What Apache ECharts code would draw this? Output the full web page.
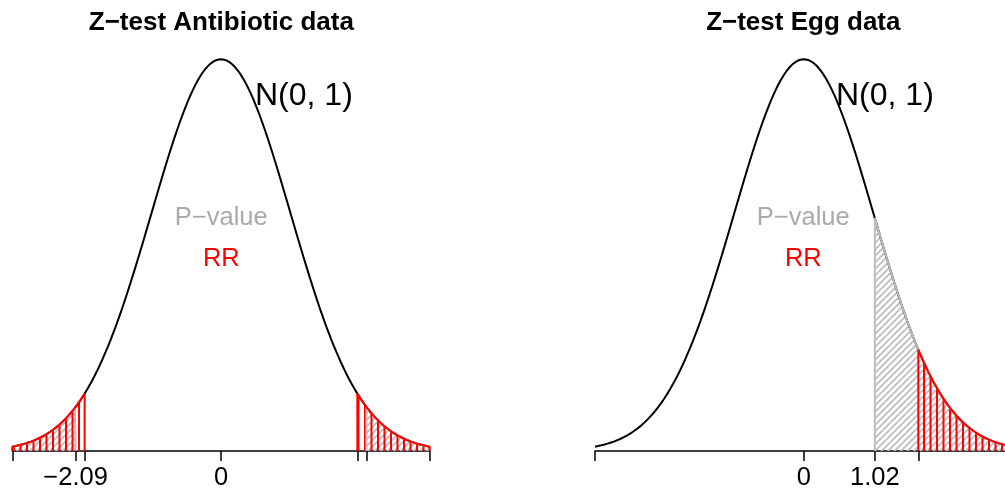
<!DOCTYPE html>
<html>
<head>
<meta charset="utf-8">
<script src="https://cdn.jsdelivr.net/npm/echarts@6/dist/echarts.min.js"></script>
<style>
  body { margin: 0; background: #fff; }
  #main { width: 1005px; height: 491px; }
</style>
</head>
<body>
<div id="main"></div>
<script>
// standard normal, drawn from -3 to 3
const mu = 0
const sigma = 1
const xRange = [-3, 3]
const step = 0.01
// right panel is cut by the window edge
const eggShownMax = 2.89

// antibiotic data: two sided test
const antiZ = -2.09
const antiCrit = [-1.96, 1.96]
const antiTicks = [-3, -2.09, -1.96, 0, 1.96, 2.09, 3]
const antiLabels = [-2.09, 0]

// egg data: one sided test
const eggZ = 1.02
const eggCrit = 1.645
const eggTicks = [-3, 0, 1.02, 1.645]
const eggLabels = [0, 1.02]

const titles = ['Z\u2212test Antibiotic data', 'Z\u2212test Egg data']

function dnorm(x) {
  const z = (x - mu) / sigma
  return Math.exp(-z * z / 2) / (sigma * Math.sqrt(2 * Math.PI))
}

function curve(a, b) {
  const pts = []
  for (let x = a; x < b; x += step) pts.push([x, dnorm(x)])
  pts.push([b, dnorm(b)])
  return pts
}

function region(a, b) {
  return [[a, 0]].concat(curve(a, b), [[b, 0]])
}

function hatch(color, kind) {
  const s = 13
  const c = document.createElement('canvas')
  c.width = s
  c.height = s
  const ctx = c.getContext('2d')
  ctx.strokeStyle = color
  ctx.lineWidth = kind === 'v' ? 2 : 1.7
  ctx.beginPath()
  if (kind === 'v') {
    ctx.moveTo(1, 0); ctx.lineTo(1, s)
    ctx.moveTo(7.5, 0); ctx.lineTo(7.5, s)
  } else {
    for (let k = -1; k <= 5; k++) {
      const d = k * 6.5
      ctx.moveTo(d + 2, -2); ctx.lineTo(d - s - 2, s + 2)
    }
  }
  ctx.stroke()
  return { image: c, repeat: 'repeat' }
}

const greyFill = hatch('#bdbdbd', 'd')
const redFill = hatch('#ff0000', 'v')

function curveSeries(i) {
  return {
    type: 'line', xAxisIndex: i, yAxisIndex: i,
    data: curve(xRange[0], xRange[1]),
    showSymbol: false, silent: true,
    lineStyle: { color: '#000', width: 2 }
  }
}

function areaSeries(i, a, b, color, fill) {
  return {
    type: 'line', xAxisIndex: i, yAxisIndex: i,
    data: region(a, b),
    showSymbol: false, silent: true,
    lineStyle: { color: color, width: 2 },
    areaStyle: { color: fill, opacity: 1 }
  }
}

function fmt(v) {
  if (v === 0) return '0'
  return (v < 0 ? '\u2212' : '') + Math.abs(v).toFixed(2)
}

function xAxis(i, max, ticks, labels) {
  return {
    type: 'value', gridIndex: i, min: xRange[0], max: max,
    splitLine: { show: false },
    axisLine: { show: true, onZero: false, lineStyle: { color: '#000', width: 1.5 } },
    axisTick: { show: true, customValues: ticks, length: 10, lineStyle: { color: '#000', width: 1.5 } },
    axisLabel: {
      show: true, customValues: labels, formatter: fmt, margin: 14,
      color: '#000', fontSize: 25.5, fontFamily: 'Liberation Sans'
    }
  }
}

function yAxis(i) {
  return { type: 'value', gridIndex: i, min: 0, max: 0.4, show: false }
}

function label(x, y, text, size, color, bold, align) {
  return {
    type: 'text', x: x, y: y, silent: true,
    style: {
      text: text, fill: color,
      font: (bold ? 'bold ' : '') + size + 'px "Liberation Sans"',
      align: align || 'center', verticalAlign: 'middle',
      textAlign: align || 'center', textVerticalAlign: 'middle'
    }
  }
}

const centers = [221.3, 803.3]

var myChart = echarts.init(document.getElementById('main'))
var option = {
  animation: false,
  grid: [
    { left: 12.3, top: 58.2, width: 417.4, height: 393.8 },
    { left: 595, top: 58.2, right: 0, height: 393.8 }
  ],
  xAxis: [xAxis(0, xRange[1], antiTicks, antiLabels), xAxis(1, eggShownMax, eggTicks, eggLabels)],
  yAxis: [yAxis(0), yAxis(1)],
  series: [
    curveSeries(0),
    areaSeries(0, xRange[0], antiZ, '#bdbdbd', greyFill),
    areaSeries(0, -antiZ, xRange[1], '#bdbdbd', greyFill),
    areaSeries(0, xRange[0], antiCrit[0], '#ff0000', redFill),
    areaSeries(0, antiCrit[1], xRange[1], '#ff0000', redFill),
    curveSeries(1),
    areaSeries(1, eggZ, xRange[1], '#bdbdbd', greyFill),
    areaSeries(1, eggCrit, xRange[1], '#ff0000', redFill)
  ],
  graphic: [
    label(centers[0], 23, titles[0], 26, '#000', true),
    label(centers[1], 23, titles[1], 26, '#000', true),
    label(255, 96, 'N(0, 1)', 32, '#000', false, 'left'),
    label(836, 96, 'N(0, 1)', 32, '#000', false, 'left'),
    label(centers[0], 218, 'P\u2212value', 25.5, '#aaaaaa'),
    label(centers[1], 218, 'P\u2212value', 25.5, '#aaaaaa'),
    label(centers[0], 259, 'RR', 25.5, '#ff0000'),
    label(centers[1], 259, 'RR', 25.5, '#ff0000')
  ]
}
myChart.setOption(option)
</script>
</body>
</html>
